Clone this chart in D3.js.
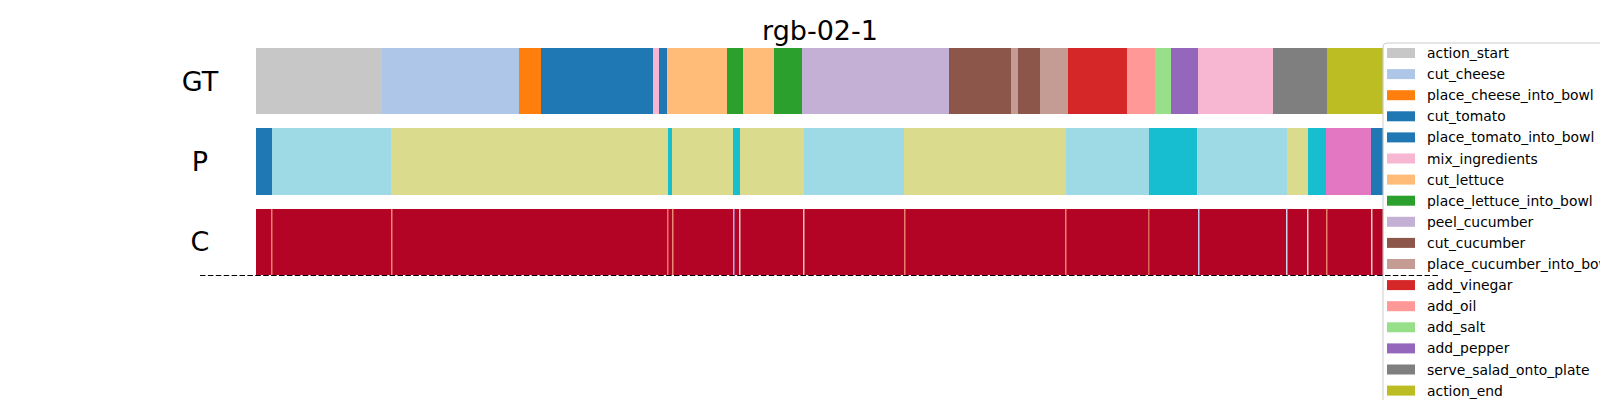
<!DOCTYPE html>
<html>
<head>
<meta charset="utf-8">
<script src="https://cdn.jsdelivr.net/npm/d3@7"></script>
<style>
  html, body { margin: 0; padding: 0; background: #fff; }
  svg { display: block; font-family: "DejaVu Sans", sans-serif; }
</style>
</head>
<body>
<svg id="chart" width="1600" height="400"></svg>
<script>
// ---------------- DATA ----------------
const title = "rgb-02-1";
const totalFrames = 1128;
const rowNames = ["GT", "P", "C"];

const classNames = [
  "action_start", "cut_cheese", "place_cheese_into_bowl", "cut_tomato",
  "place_tomato_into_bowl", "mix_ingredients", "cut_lettuce",
  "place_lettuce_into_bowl", "peel_cucumber", "cut_cucumber",
  "place_cucumber_into_bowl", "add_vinegar", "add_oil", "add_salt",
  "add_pepper", "serve_salad_onto_plate", "action_end"
];
const classColors = [
  "#c7c7c7", "#aec7e8", "#ff7f0e", "#1f77b4", "#1f77b4", "#f7b6d2", "#ffbb78",
  "#2ca02c", "#c5b0d5", "#8c564b", "#c49c94", "#d62728", "#ff9896", "#98df8a",
  "#9467bd", "#7f7f7f", "#bcbd22"
];

// Ground truth segments: [startFrame, endFrame, label]
const gtStarts = [0, 126, 263, 285, 397, 403, 411, 471, 487, 518, 546, 693, 755, 762, 784, 812, 871, 899, 915, 942, 1017, 1071];
const gtLabels = ["action_start", "cut_cheese", "place_cheese_into_bowl", "cut_tomato",
  "mix_ingredients", "place_tomato_into_bowl", "cut_lettuce", "place_lettuce_into_bowl",
  "cut_lettuce", "place_lettuce_into_bowl", "peel_cucumber", "cut_cucumber",
  "place_cucumber_into_bowl", "cut_cucumber", "place_cucumber_into_bowl", "add_vinegar",
  "add_oil", "add_salt", "add_pepper", "mix_ingredients", "serve_salad_onto_plate", "action_end"];

// Prediction segments (predicted class ids outside legend, tab20 palette)
const predStarts = [0, 16, 135, 412, 416, 477, 484, 548, 648, 810, 893, 941, 1031, 1052, 1070, 1115];
const predClass  = [0, 19, 17, 18, 17, 18, 17, 19, 17, 19, 18, 19, 17, 18, 12, 0];
const tab20 = ["#1f77b4", "#aec7e8", "#ff7f0e", "#ffbb78", "#2ca02c", "#98df8a", "#d62728", "#ff9896",
  "#9467bd", "#c5b0d5", "#8c564b", "#c49c94", "#e377c2", "#f7b6d2", "#7f7f7f", "#c7c7c7",
  "#bcbd22", "#dbdb8d", "#17becf", "#9edae5"];

// Confidence: base value and dips at frames
const confBase = 1.0;
const confDipFrames = [15, 135, 411, 416, 477, 483, 547, 648, 809, 892, 942, 1030, 1051, 1070, 1115];
const confDipValues = [0.8, 0.78, 0.82, 0.78, 0.3, 0.55, 0.62, 0.8, 0.8, 0.85, 0.4, 0.45, 0.55, 0.8, 0.55];

// ---------------- DRAW ----------------
const svg = d3.select("#chart");
const x = d3.scaleLinear().domain([0, totalFrames]).range([256, 1384]);
const y = d3.scaleBand().domain(rowNames).range([48, 275]).paddingInner(0.18);
const colorOf = d3.scaleOrdinal().domain(classNames).range(classColors);
const coolwarm = d3.interpolateRgbBasis(["#3b4cc0", "#6788ee", "#9abbff", "#c9d7f0", "#edd1c2", "#f7a889", "#e26952", "#b40426"]);

function segs(starts, vals) {
  return starts.map((s, i) => ({ s, e: i + 1 < starts.length ? starts[i + 1] : totalFrames, v: vals[i] }));
}

// GT
svg.append("g").selectAll("rect").data(segs(gtStarts, gtLabels)).join("rect")
  .attr("x", d => x(d.s)).attr("width", d => x(d.e) - x(d.s))
  .attr("y", y("GT")).attr("height", y.bandwidth())
  .attr("fill", d => colorOf(d.v)).attr("shape-rendering", "crispEdges");

// P
svg.append("g").selectAll("rect").data(segs(predStarts, predClass)).join("rect")
  .attr("x", d => x(d.s)).attr("width", d => x(d.e) - x(d.s))
  .attr("y", y("P")).attr("height", y.bandwidth())
  .attr("fill", d => tab20[d.v]).attr("shape-rendering", "crispEdges");

// C
const gC = svg.append("g");
gC.append("rect").attr("x", x(0)).attr("width", x(totalFrames) - x(0))
  .attr("y", y("C")).attr("height", y.bandwidth()).attr("fill", coolwarm(confBase));
gC.selectAll("rect.dip").data(confDipFrames.map((f, i) => ({ f, v: confDipValues[i] }))).join("rect")
  .attr("class", "dip")
  .attr("x", d => x(d.f)).attr("width", x(1.5) - x(0))
  .attr("y", y("C")).attr("height", y.bandwidth())
  .attr("fill", d => coolwarm(d.v));

// Row labels
svg.append("g").selectAll("text").data(rowNames).join("text")
  .attr("x", 200).attr("y", d => y(d) + y.bandwidth() / 2)
  .attr("text-anchor", "middle").attr("dominant-baseline", "central")
  .attr("font-size", 27).attr("fill", "#000").text(d => d);

// Title
svg.append("text").attr("x", (x.range()[0] + x.range()[1]) / 2).attr("y", 40)
  .attr("text-anchor", "middle").attr("font-size", 27).attr("fill", "#000").text(title);

// Legend
const lg = svg.append("g").attr("transform", "translate(1383,43)");
lg.append("rect").attr("x", 0).attr("y", 0).attr("width", 260).attr("height", 400)
  .attr("rx", 4).attr("fill", "#fff").attr("fill-opacity", 0.8)
  .attr("stroke", "#cccccc").attr("stroke-width", 1);
const items = lg.selectAll("g.item").data(classNames).join("g").attr("class", "item")
  .attr("transform", (d, i) => `translate(0,${10 + i * 21.1})`);
items.append("rect").attr("x", 4).attr("y", -5).attr("width", 28).attr("height", 10)
  .attr("fill", (d, i) => classColors[i]);
items.append("text").attr("x", 44).attr("y", 0).attr("dominant-baseline", "central")
  .attr("font-size", 13.9).attr("fill", "#000").text(d => d);

// Dashed separator
svg.append("line").attr("x1", 200).attr("x2", 1438).attr("y1", 275.5).attr("y2", 275.5)
  .attr("stroke", "#000").attr("stroke-width", 1.2).attr("stroke-dasharray", "5.5,2.4");
</script>
</body>
</html>
